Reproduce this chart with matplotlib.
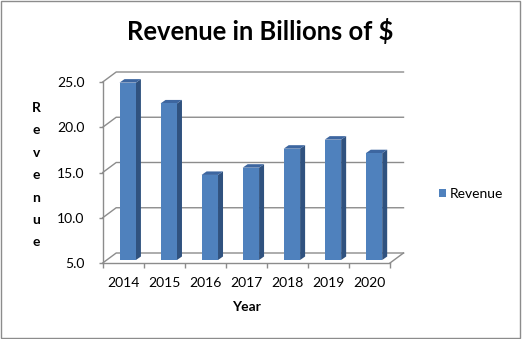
import numpy as np
import matplotlib
matplotlib.use("Agg")
import matplotlib.pyplot as plt
from matplotlib.patches import Polygon, Rectangle
from matplotlib.transforms import ScaledTranslation

# ---- data -------------------------------------------------------------
years = ["2014", "2015", "2016", "2017", "2018", "2019", "2020"]
revenue = [24.6, 22.3, 14.4, 15.2, 17.3, 18.3, 16.8]
y_ticks = [5.0, 10.0, 15.0, 20.0, 25.0]
title = "Revenue in Billions of $"
series_name = "Revenue"
x_title = "Year"
y_title = "Revenue"

plt.rcParams['font.family'] = ['Lato', 'DejaVu Sans']

W, H, DPI = 522, 339, 100
fig = plt.figure(figsize=(W / DPI, H / DPI), dpi=DPI)
ax = fig.add_axes([102.7 / W, 1 - 263 / H, (390 - 102.7) / W, (263 - 82) / H])
ax.set_xlim(-0.5, len(years) - 0.5)
ax.set_ylim(y_ticks[0], y_ticks[-1])
ax.patch.set_visible(False)

GRID = '#8c8c8c'
FRONT = '#4F81BD'
SIDE = '#30527F'
TOP = '#3D66A0'

WALL_DX, WALL_DY = 13.5, 10.0   # depth of the chart box (px)
BAR_DX, BAR_DY = 4.5, 3.0       # depth position of the column fronts (px)
COL_DX, COL_DY = 5.0, 3.5       # depth of each column (px)


def shift(x, y, dx, dy):
    """Data point moved by (dx, dy) display pixels, back in data coords."""
    d = ax.transData.transform((x, y))
    return tuple(ax.transData.inverted().transform((d[0] + dx, d[1] + dy)))


x0, x1 = -0.5, len(years) - 0.5
y0 = y_ticks[0]

# back wall gridlines with the side-wall diagonals
for v in y_ticks:
    b0 = shift(x0, v, WALL_DX, WALL_DY)
    b1 = shift(x1, v, WALL_DX, WALL_DY)
    ax.plot([x0, b0[0], b1[0]], [v, b0[1], b1[1]], color=GRID, lw=1.0,
            zorder=1, clip_on=False, solid_joinstyle='miter')
# right edge of the floor
fr = shift(x1, y0, WALL_DX, WALL_DY)
ax.plot([x1, fr[0]], [y0, fr[1]], color=GRID, lw=1.0, zorder=1, clip_on=False)

# axes lines
for s in ('top', 'right'):
    ax.spines[s].set_visible(False)
for s in ('left', 'bottom'):
    ax.spines[s].set_color(GRID)
    ax.spines[s].set_linewidth(1.0)

ax.set_yticks(y_ticks, labels=[f"{v:.1f}" for v in y_ticks])
ax.tick_params(axis='y', length=3, width=1.0, color=GRID, pad=10,
               labelsize=10, labelcolor='black')
idx = np.arange(len(years))
ax.set_xticks(idx, labels=years)
ax.set_xticks(np.arange(x0, x1 + 0.01, 1.0), minor=True)
ax.tick_params(axis='x', which='major', length=0, pad=10, labelsize=10)
ax.tick_params(axis='x', which='minor', length=3.6, width=1.0, color=GRID)

# columns: front faces
bars = ax.bar(idx, np.array(revenue) - y0, bottom=y0, width=0.4,
              color=FRONT, zorder=4, linewidth=0)
off = ScaledTranslation(BAR_DX / DPI, BAR_DY / DPI, fig.dpi_scale_trans)
for b in bars:
    b.set_transform(ax.transData + off)
    xl = b.get_x()
    xr = xl + b.get_width()
    top = b.get_y() + b.get_height()
    side = [shift(xr, y0, BAR_DX, BAR_DY), shift(xr, top, BAR_DX, BAR_DY),
            shift(xr, top, BAR_DX + COL_DX, BAR_DY + COL_DY),
            shift(xr, y0, BAR_DX + COL_DX, BAR_DY + COL_DY)]
    lid = [shift(xl, top, BAR_DX, BAR_DY), shift(xr, top, BAR_DX, BAR_DY),
           shift(xr, top, BAR_DX + COL_DX, BAR_DY + COL_DY),
           shift(xl, top, BAR_DX + COL_DX, BAR_DY + COL_DY)]
    ax.add_patch(Polygon(side, closed=True, facecolor=SIDE, edgecolor='none',
                         zorder=3, clip_on=False))
    ax.add_patch(Polygon(lid, closed=True, facecolor=TOP, edgecolor='none',
                         zorder=3, clip_on=False))

# titles
fig.text(260.5 / W, 1 - 39.5 / H, title, ha='center', va='baseline',
         fontsize=18.4, fontweight='bold')
fig.text(246.3 / W, 1 - 307 / H, x_title, ha='center', va='center',
         fontsize=10, fontweight='bold')
for k, ch in enumerate(y_title):
    fig.text(36.5 / W, 1 - (112 + 22.4 * k) / H, ch, ha='center',
             va='baseline', fontsize=10, fontweight='bold')

# legend
fig.legend(handles=[bars], labels=[series_name], loc='center left',
           bbox_to_anchor=(439 / W, 1 - 193.5 / H), frameon=False,
           handlelength=0.5, handleheight=0.5, handletextpad=0.3,
           borderpad=0, borderaxespad=0, fontsize=10)

# chart border
fig.add_artist(Rectangle((0.5 / W, 0.7 / H), 519.5 / W, 337.6 / H,
                         transform=fig.transFigure, fill=False,
                         edgecolor=GRID, linewidth=1.0))

fig.savefig('out.png', dpi=DPI)
